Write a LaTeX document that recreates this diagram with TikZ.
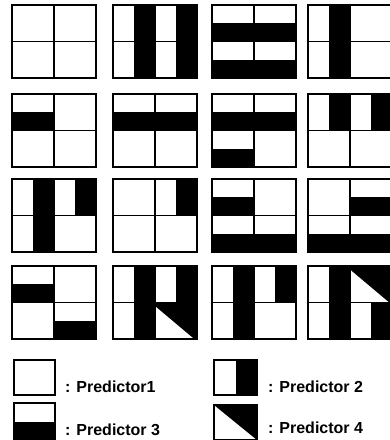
\documentclass[tikz,border=0pt]{standalone}
\usepackage{fontspec}
\setmainfont{Liberation Sans}
\newcommand\Quad[5]{%
  \ifcase#5\or
  \or \fill ({#1+#3/2},{#2}) rectangle ({#1+#3},{#2+#4});
  \or \fill ({#1},{#2+#4/2}) rectangle ({#1+#3},{#2+#4});
  \or \fill ({#1},{#2}) rectangle ({#1+#3},{#2+#4});
      \fill[white] ({#1},{#2+0.1*#4}) -- ({#1},{#2+#4}) -- ({#1+0.93*#3},{#2+#4}) -- cycle;
  \fi
  \draw[qline] ({#1},{#2}) rectangle ({#1+#3},{#2+#4});}
\newcommand\Tile[6]{%
  \Quad{#1}{#2}{42}{36.5}{#3}
  \Quad{#1+42}{#2}{42}{36.5}{#4}
  \Quad{#1}{#2+36.5}{42}{36.5}{#5}
  \Quad{#1+42}{#2+36.5}{42}{36.5}{#6}
  \draw[tline] ({#1},{#2}) rectangle ({#1+84},{#2+73});}
\begin{document}
\begin{tikzpicture}[x=1pt,y=-1pt,
  qline/.style={line width=1.6pt},
  tline/.style={line width=2.2pt},
  legbox/.style={line width=1.5pt},
  legtext/.style={anchor=base west, inner sep=0pt, font=\fontsize{16}{18}\selectfont\bfseries}]
\useasboundingbox[fill=white] (0,0) rectangle (390,440);
% row 1
\Tile{12}{5}{1}{1}{1}{1}
\Tile{113}{5}{2}{2}{2}{2}
\Tile{212}{5}{3}{3}{3}{3}
\Tile{308}{5}{2}{1}{2}{1}
% row 2
\Tile{12}{94}{3}{1}{1}{1}
\Tile{113}{94}{3}{3}{1}{1}
\Tile{212}{94}{3}{3}{3}{1}
\Tile{308}{94}{2}{2}{1}{1}
% row 3
\Tile{12}{179}{2}{2}{2}{1}
\Tile{113}{179}{1}{2}{1}{1}
\Tile{212}{179}{3}{1}{3}{3}
\Tile{308}{179}{1}{3}{3}{3}
% row 4
\Tile{12}{266}{3}{1}{1}{3}
\Tile{113}{266}{2}{2}{2}{4}
\Tile{212}{266}{2}{2}{2}{1}
\Tile{308}{266}{2}{4}{2}{2}
% legend
\draw[legbox] (14,360) rectangle (55,395);
\node[legtext] (p1) at (65,392) {: Predictor1};
\fill (236,360) rectangle (257,395);
\draw[legbox] (214,360) rectangle (257,395);
\node[legtext] (p2) at (268,392) {: Predictor 2};
\fill (14,422) rectangle (55,440);
\draw[legbox] (14,403) rectangle (55,440);
\node[legtext] (p3) at (65,435) {: Predictor 3};
\fill (214,405) -- (257,405) -- (257,440) -- cycle;
\draw[legbox] (214,405) rectangle (257,440);
\node[legtext] (p4) at (268,433) {: Predictor 4};
\end{tikzpicture}
\end{document}
